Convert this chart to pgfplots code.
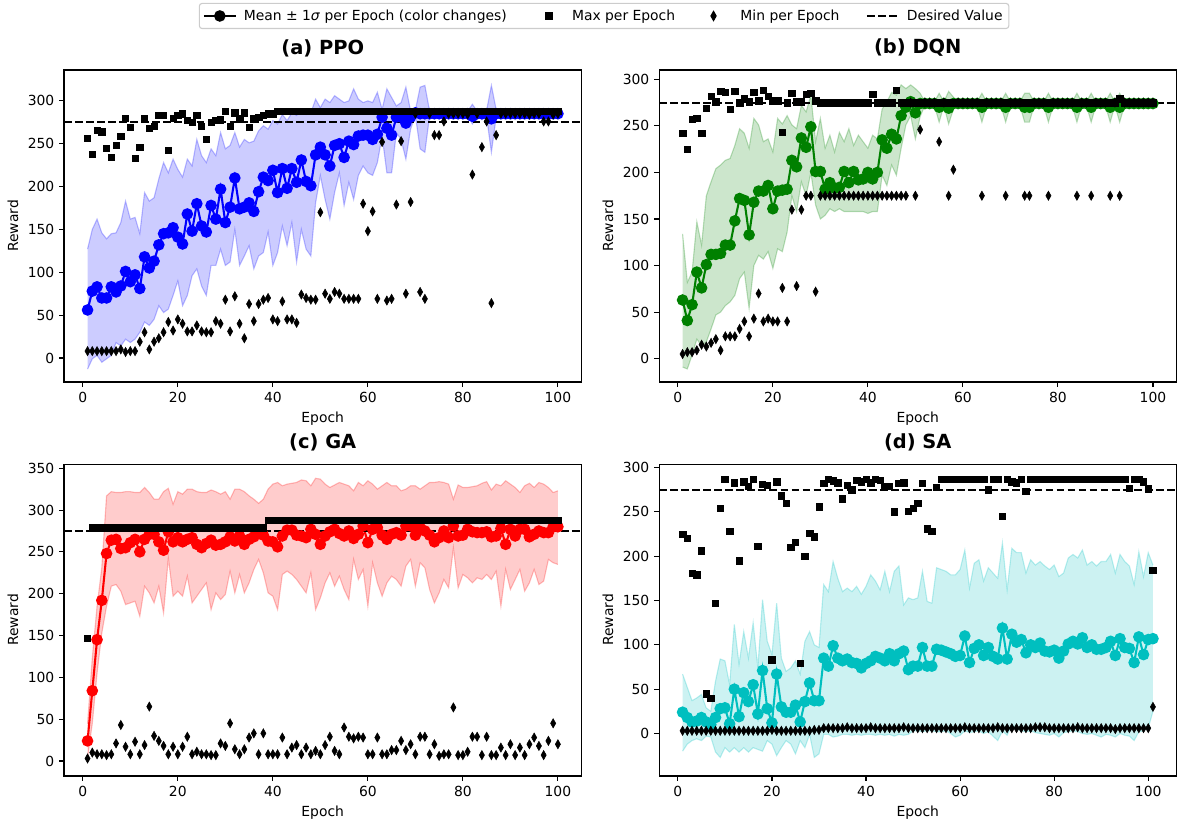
\documentclass[border=0pt]{standalone}
\usepackage{fontspec}
\setmainfont{DejaVu Sans}
\usepackage{pgfplots}
\usepackage{pgfplotstable}
\pgfplotsset{compat=1.18}
\usepgfplotslibrary{fillbetween}

\definecolor{mplgreen}{RGB}{0,128,0}
\definecolor{mplcyan}{RGB}{0,191,191}

\pgfplotsset{
  panel/.style={
    width=372.5pt, height=224.6pt, scale only axis, anchor=north west,
    xmin=-3.95, xmax=104.95, xtick={0,20,...,100},
    tick pos=left, tick align=outside, major tick length=3.5pt,
    tick style={black, line width=0.8pt}, axis line style={line width=0.8pt},
    xlabel={Epoch}, ylabel={Reward},
    title style={font=\fontsize{14}{17}\selectfont\bfseries},
    ticklabel style={font=\fontsize{10}{12}\selectfont},
    label style={font=\fontsize{10}{12}\selectfont},
    /pgf/number format/assume math mode=true,
  },
  meanline/.style={line width=1.5pt, mark=*, mark size=3.4pt},
  maxmark/.style={only marks, mark=square*, mark size=2.3pt, black},
  minmark/.style={only marks, mark=diamond*, mark size=3.3pt, black, mark options={xscale=0.75}},
  desired/.style={black, line width=1.5pt, dash pattern=on 5.55pt off 2.4pt, forget plot},
  % legend handles, 23pt wide
  lineimg/.style={legend image code/.code={
    \draw[mark repeat=2, mark phase=2, ##1] plot coordinates {(0pt,0pt) (11.5pt,0pt) (23pt,0pt)};}},
  markimg/.style={legend image code/.code={
    \path[draw=none, fill=none] (0pt,0pt) rectangle (23pt,0.1pt);
    \path[draw=none, fill=none] plot[only marks, #1, mark options={draw=black, fill=black}] coordinates {(11.5pt,0pt)};}},
}

% band, mean, max, min for one panel: #1 table, #2 colour, #3 path name
\newcommand\panelplots[3]{
  \addplot[name path=#3u, draw=#2, draw opacity=0.25, line width=0.8pt, forget plot] table[x=e,y=up]{#1};
  \addplot[name path=#3l, draw=#2, draw opacity=0.25, line width=0.8pt, forget plot] table[x=e,y=lo]{#1};
  \addplot[fill=#2, fill opacity=0.2, draw=none, forget plot] fill between[of=#3u and #3l];
  \addplot[meanline, color=#2, forget plot] table[x=e,y=mean]{#1};
  \addplot[maxmark, forget plot] table[x=e,y=max]{#1};
  \addplot[minmark, forget plot] table[x=e,y=min]{#1};
}

\begin{document}

\pgfplotstableread{
e mean up lo max min
1 56 127 -13 256 8
2 78 150 -1 238 8
3 83 162 3 266 8
4 70 146 -5 264 8
5 70 139 -1 245 8
6 83 145 3 234 8
7 77 146 18 248 8
8 84 158 14 259 10
9 101 183 22 280 7
10 89 162 18 269 8
11 97 164 22 233 8
12 81 145 30 246 19
13 118 193 42 280 30
14 105 183 38 268 10
15 113 187 45 270 19
16 132 209 61 283 23
17 145 228 53 283 30
18 146 216 57 242 42
19 152 232 73 280 32
20 141 220 90 283 45
21 133 211 61 285 40
22 168 232 73 277 31
23 148 224 96 275 31
24 180 255 104 283 38
25 154 236 84 270 31
26 147 228 73 255 30
27 178 244 108 275 30
28 162 236 108 277 43
29 197 263 127 278 40
30 158 244 108 288 68
31 176 248 112 270 31
32 210 263 150 286 72
33 174 246 108 279 40
34 176 255 119 286 23
35 181 251 131 269 63
36 171 253 104 279 43
37 194 265 119 281 63
38 211 271 123 283 68
39 207 267 147 285 70
40 219 277 108 285 45
41 193 273 123 288 43
42 221 284 154 288 66
43 198 277 131 288 45
44 221 286 158 288 45
45 205 283 112 288 41
46 231 290 150 288 74
47 206 284 127 288 70
48 201 286 119 288 68
49 237 302 181 288 68
50 246 292 213 288 170
51 237 302 185 288 75
52 224 298 162 288 69
53 248 306 193 288 77
54 250 302 216 288 75
55 234 298 178 288 69
56 253 300 205 288 69
57 249 314 185 288 69
58 259 302 213 288 69
59 260 298 224 288 180
60 260 300 216 288 148
61 255 298 213 288 171
62 261 310 228 288 69
63 281 290 259 288 252
64 268 314 216 288 67
65 260 304 216 288 69
66 281 294 263 288 179
67 281 298 255 288 253
68 274 316 232 288 75
69 281 288 267 288 182
70 286 289 283 288 285
71 285 316 244 288 77
72 285 318 240 288 69
73 285 288 283 288 285
74 285 289 281 288 260
75 285 289 281 288 260
76 285 289 281 288 276
77 285 288 283 288 285
78 285 288 283 288 285
79 285 288 283 288 285
80 285 288 283 288 285
81 285 288 283 288 284
82 282 296 273 288 214
83 285 288 283 288 285
84 285 290 278 288 246
85 285 289 281 288 276
86 279 318 240 288 64
87 285 290 281 288 260
88 285 288 283 288 285
89 285 288 283 288 285
90 285 288 283 288 285
91 285 288 283 288 285
92 285 288 283 288 285
93 285 288 283 288 285
94 285 288 283 288 284
95 285 288 283 288 285
96 285 288 283 288 285
97 285 288 281 288 276
98 285 288 281 288 276
99 285 288 283 288 284
100 285 288 283 288 285
}\ppo

\pgfplotstableread{
e mean up lo max min
1 63 134 -9 242 5
2 41 82 -11 225 7
3 58 93 4 257 7
4 93 147 21 258 9
5 76 122 14 242 15
6 101 175 18 269 13
7 112 190 32 282 17
8 112 204 47 276 21
9 113 208 50 287 9
10 122 213 57 286 24
11 122 215 61 268 24
12 148 229 68 287 24
13 172 247 86 275 32
14 170 242 93 279 40
15 133 226 54 276 24
16 168 258 100 286 43
17 180 251 111 277 70
18 180 233 107 288 40
19 186 236 115 282 43
20 161 222 97 277 40
21 180 258 118 277 40
22 181 252 115 243 76
23 182 261 136 275 40
24 213 251 175 285 160
25 206 247 158 276 78
26 237 272 190 276 160
27 227 265 175 284 175
28 249 283 200 285 175
29 201 233 165 277 72
30 201 258 150 275 175
31 182 226 154 275 175
32 189 240 161 275 175
33 183 222 158 275 175
34 184 243 161 275 175
35 201 233 158 275 175
36 189 247 158 275 175
37 201 229 158 275 175
38 192 240 158 275 175
39 193 233 158 275 175
40 200 226 156 275 175
41 193 240 158 284 175
42 200 236 158 275 175
43 235 268 197 275 175
44 226 276 186 275 175
45 241 286 208 275 175
46 236 283 197 288 175
47 261 294 226 275 175
48 270 290 251 275 175
49 276 294 261 275 275
50 264 290 236 275 175
51 274 285 260 275 246
52 274 276 272 275 275
53 274 276 272 275 275
54 274 276 272 275 275
55 270 285 254 275 233
56 274 276 272 275 275
57 269 287 252 275 175
58 274 281 268 275 203
59 274 276 272 275 275
60 274 276 272 275 275
61 274 276 272 275 275
62 274 276 272 275 275
63 274 276 272 275 275
64 270 285 254 275 175
65 274 276 272 275 275
66 274 276 272 275 275
67 274 276 272 275 275
68 274 276 272 275 275
69 270 285 254 275 175
70 274 276 272 275 275
71 274 276 272 275 275
72 274 276 272 275 275
73 270 285 254 275 175
74 270 285 254 275 175
75 274 276 272 275 275
76 274 276 272 275 275
77 274 276 272 275 275
78 270 285 254 275 175
79 274 276 272 275 275
80 274 276 272 275 275
81 274 276 272 275 275
82 274 276 272 275 275
83 274 276 272 275 275
84 270 285 254 275 175
85 274 276 272 275 275
86 274 276 272 275 275
87 270 285 254 275 175
88 274 276 272 275 275
89 274 276 272 275 275
90 274 276 272 275 275
91 270 285 254 275 175
92 274 276 272 275 275
93 270 285 254 279 175
94 274 276 272 275 275
95 274 276 272 275 275
96 274 276 272 275 275
97 274 276 272 275 275
98 274 276 272 275 275
99 274 276 272 275 275
100 274 276 272 275 275
}\dqn

\pgfplotstableread{
e mean up lo max min
1 24 44 4 147 3
2 84 123 45 279 10
3 145 185 105 279 8
4 192 231 153 279 8
5 248 317 185 279 7
6 264 322 209 279 8
7 265 321 211 279 21
8 254 321 203 279 43
9 255 322 187 279 17
10 261 322 189 279 8
11 265 321 191 279 23
12 250 321 173 279 8
13 265 327 209 279 19
14 271 321 201 279 65
15 271 313 189 279 30
16 262 313 209 279 24
17 252 322 177 279 18
18 274 326 243 279 8
19 262 307 197 279 17
20 267 322 203 279 8
21 262 319 197 279 17
22 265 325 221 279 29
23 267 325 189 279 8
24 259 322 197 279 11
25 255 321 205 279 8
26 260 321 213 279 8
27 264 324 181 279 7
28 258 322 201 279 7
29 259 319 193 279 21
30 262 322 199 279 18
31 268 313 227 279 45
32 263 325 201 279 14
33 269 325 223 279 8
34 259 322 201 279 14
35 265 317 213 279 28
36 268 313 229 279 33
37 272 308 241 279 8
38 270 313 225 279 33
39 263 325 201 288 8
40 262 331 197 288 8
41 256 333 181 288 8
42 269 329 223 288 28
43 276 331 227 288 8
44 276 332 223 288 16
45 270 333 217 288 19
46 269 336 209 288 8
47 267 335 201 288 16
48 277 329 225 288 8
49 271 338 181 288 12
50 259 337 195 288 8
51 269 331 213 288 19
52 274 327 225 288 29
53 277 330 209 288 12
54 272 333 221 288 8
55 269 331 205 288 40
56 275 329 193 288 29
57 266 323 241 288 27
58 271 333 217 288 29
59 281 329 229 288 28
60 261 335 185 288 8
61 277 331 237 288 8
62 279 325 213 288 28
63 270 329 197 288 8
64 265 333 213 288 8
65 271 329 221 288 13
66 273 329 217 288 13
67 270 323 209 288 24
68 281 325 233 288 13
69 281 329 241 288 20
70 270 329 209 288 8
71 279 325 237 288 29
72 275 329 231 288 29
73 270 333 205 288 8
74 262 333 189 288 20
75 267 334 201 288 6
76 275 333 217 288 8
77 267 331 207 288 8
78 281 313 255 288 64
79 269 330 207 288 7
80 270 327 223 288 7
81 277 327 219 288 11
82 274 328 213 288 29
83 273 329 219 288 29
84 273 332 217 288 7
85 274 334 223 288 29
86 268 324 217 288 7
87 269 331 227 288 7
88 278 329 185 288 16
89 259 335 229 288 7
90 277 331 205 288 20
91 269 327 217 288 7
92 277 321 229 288 16
93 277 329 203 288 7
94 268 332 213 288 20
95 271 327 229 288 28
96 275 333 211 288 18
97 273 331 215 288 7
98 273 327 241 288 24
99 280 321 237 288 45
100 280 323 235 288 20
}\ga

\pgfplotstableread{
e mean up lo max min
1 24 67 -20 225 3
2 18 52 -12 220 3
3 13 37 -8 181 3
4 14 40 -6 179 3
5 18 44 -8 206 3
6 13 29 -3 45 3
7 10 25 -4 40 3
8 18 59 -21 147 3
9 28 84 -27 254 3
10 29 82 -16 287 3
11 11 55 -21 228 3
12 50 123 -16 283 3
13 19 78 -21 195 3
14 46 115 -16 284 3
15 36 85 -21 279 3
16 55 125 -16 287 3
17 22 74 -18 211 3
18 71 151 -20 281 3
19 28 104 -8 280 3
20 12 89 -12 83 4
21 67 147 -25 284 3
22 30 85 -16 268 3
23 24 70 -8 260 3
24 24 74 -12 210 3
25 32 82 -23 216 3
26 13 67 -8 79 3
27 36 104 -16 200 3
28 57 115 -1 226 3
29 37 100 -27 222 4
30 37 97 -23 256 4
31 85 168 -1 282 6
32 76 160 -1 287 6
33 99 194 -4 285 6
34 85 175 -3 283 6
35 82 160 -1 265 6
36 84 164 -1 280 7
37 80 160 -2 275 6
38 79 166 -1 286 6
39 74 157 -2 284 6
40 79 166 -1 287 6
41 82 179 -1 283 7
42 87 172 -2 287 6
43 85 162 -1 286 6
44 82 183 -2 279 6
45 90 160 -1 279 6
46 82 183 -3 250 6
47 90 189 -1 282 6
48 93 145 -2 283 7
49 72 153 -1 251 6
50 76 151 3 254 6
51 76 153 3 260 6
52 97 183 2 282 6
53 76 149 3 231 6
54 76 147 3 228 6
55 95 187 2 278 6
56 94 185 2 287 6
57 92 183 3 287 6
58 90 179 0 287 6
59 87 179 -4 287 6
60 88 185 -2 287 6
61 110 207 3 287 7
62 80 164 1 287 6
63 96 192 2 287 6
64 100 196 3 287 6
65 88 172 0 287 6
66 97 187 2 275 6
67 87 181 -3 287 6
68 84 175 -8 287 7
69 119 215 3 245 6
70 84 162 -2 287 6
71 112 209 10 284 6
72 103 204 5 283 6
73 106 204 3 287 6
74 91 181 2 273 6
75 100 196 3 287 6
76 97 190 1 287 7
77 102 194 0 287 7
78 93 189 -1 287 7
79 92 185 -2 287 6
80 94 190 0 287 6
81 85 177 -4 287 6
82 93 181 1 287 6
83 101 198 2 287 6
84 104 202 3 287 6
85 101 198 2 287 7
86 108 207 0 287 6
87 97 190 -1 287 6
88 100 194 0 287 6
89 95 189 -2 287 6
90 95 194 -4 287 6
91 97 194 -1 287 6
92 104 202 -2 287 6
93 88 181 -4 287 5
94 107 202 0 287 6
95 97 194 -2 287 6
96 96 189 -3 277 6
97 80 168 -8 287 6
98 109 205 2 287 6
99 89 177 3 284 6
100 106 204 6 276 6
101 107 190 25 184 30
}\sa

\begin{tikzpicture}
% (a) PPO, carries the figure legend
\begin{axis}[panel, at={(46.1pt,-50.4pt)}, title={(a) PPO},
  ymin=-28, ymax=336, ytick={0,50,...,300},
  legend columns=4, legend cell align=left,
  legend style={at={(1.0438,1.1732)}, anchor=center, draw=black!20, line width=0.8pt,
    rounded corners=2pt, inner sep=2.5pt, font=\fontsize{10}{12}\selectfont,
    /tikz/every odd column/.append style={column sep=3pt},
    /tikz/every even column/.append style={column sep=17pt}},
]
\panelplots{\ppo}{blue}{pa}
\addplot[desired] coordinates {(-3.95,275) (104.95,275)};
\addlegendimage{lineimg, black, line width=1.5pt, mark=*, mark size=3.4pt}
\addlegendentry{Mean ± 1\textit{σ} per Epoch (color changes)}
\addlegendimage{markimg={mark=square*, mark size=2.3pt}}
\addlegendentry{Max per Epoch}
\addlegendimage{markimg={mark=diamond*, mark size=3.3pt, xscale=0.75}}
\addlegendentry{Min per Epoch}
\addlegendimage{lineimg, black, line width=1.5pt, dash pattern=on 5.55pt off 2.4pt}
\addlegendentry{Desired Value}
\end{axis}

% (b) DQN
\begin{axis}[panel, at={(474.5pt,-50.4pt)}, title={(b) DQN},
  ymin=-25, ymax=310, ytick={0,50,...,300}]
\panelplots{\dqn}{mplgreen}{pb}
\addplot[desired] coordinates {(-3.95,275) (104.95,275)};
\end{axis}

% (c) GA
\begin{axis}[panel, at={(46.1pt,-334.1pt)}, title={(c) GA},
  ymin=-18, ymax=355, ytick={0,50,...,350}]
\panelplots{\ga}{red}{pc}
\addplot[desired] coordinates {(-3.95,275) (104.95,275)};
\end{axis}

% (d) SA, one epoch more
\begin{axis}[panel, at={(474.5pt,-334.1pt)}, title={(d) SA},
  xmin=-4, xmax=106, ymin=-48, ymax=304, ytick={0,50,...,300}]
\panelplots{\sa}{mplcyan}{pd}
\addplot[desired] coordinates {(-4,275) (106,275)};
\end{axis}

\pgfresetboundingbox
\path[use as bounding box] (0pt,0pt) rectangle (847.4pt,-594pt);
\end{tikzpicture}
\end{document}
